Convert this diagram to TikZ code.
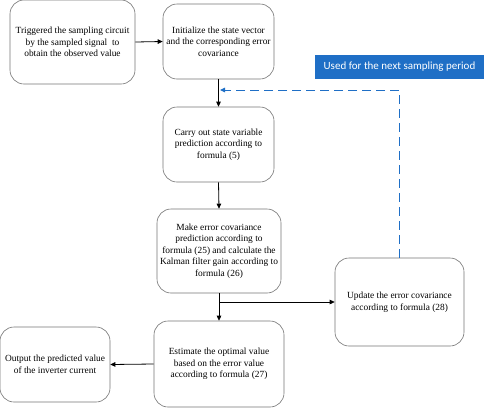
\documentclass[tikz,border=0pt]{standalone}
\usepackage{fontspec}
\setmainfont{Liberation Serif}
\newfontfamily\labelfont{Carlito}
\usetikzlibrary{arrows.meta}
\definecolor{usedblue}{HTML}{1F6FC6}
\tikzset{
  box/.style={draw=black!55, line width=0.6pt, rounded corners=14pt, align=center,
    font=\fontsize{9.4}{11.6}\selectfont, inner sep=1pt},
  flow/.style={draw=black, line width=0.8pt, -{Triangle[length=5pt,width=4.5pt]}},
  back/.style={draw=usedblue, line width=1pt, dash pattern=on 9pt off 5pt,
    -{Triangle[length=5pt,width=4.5pt]}}
}
\begin{document}
\begin{tikzpicture}[x=1pt,y=-1pt]
\useasboundingbox (0,0) rectangle (484,408);
\node[box, minimum width=125pt, minimum height=84pt] (trig) at (72.5,42) {Triggered the sampling circuit\\by the sampled signal\ \ to\\obtain the observed value};
\node[box, minimum width=111pt, minimum height=75pt] (init) at (218.5,41.5) {Initialize the state vector\\and the corresponding error\\covariance};
\node[box, minimum width=111pt, minimum height=75pt] (carry) at (218.5,144.5) {Carry out state variable\\prediction according to\\formula (5)};
\node[box, minimum width=124pt, minimum height=84pt] (make) at (219,251) {Make error covariance\\prediction according to\\formula (25) and calculate the\\Kalman filter gain according to\\formula (26)};
\node[box, minimum width=130pt, minimum height=86pt] (est) at (219,364) {Estimate the optimal value\\based on the error value\\according to formula (27)};
\node[box, minimum width=110pt, minimum height=75pt] (out) at (55,364.5) {Output the predicted value\\of the inverter current};
\node[box, minimum width=129pt, minimum height=88pt] (upd) at (399.5,302) {Update the error covariance\\according to formula (28)};
\node[fill=usedblue, text=white, font=\labelfont\fontsize{11}{12}\selectfont, minimum width=169pt, minimum height=24pt, inner sep=0pt] (used) at (399.5,67) {Used for the next sampling period};

\draw[flow] (trig.east) -- (init.west);
\draw[flow] (init.south) -- (carry.north);
\draw[flow] (carry.south) -- (make.north);
\draw[flow] (make.south) -- (est.north);
\coordinate (br) at (make.south |- 0,302);
\draw[flow] (br) -- (upd.west);
\draw[flow] (est.west) -- (out.east);
\coordinate (bk) at (upd.north |- 0,90);
\coordinate (bt) at (init.south |- 0,90);
\draw[back] (upd.north) -- (bk) -- ([xshift=1.5pt]bt);
\end{tikzpicture}
\end{document}
